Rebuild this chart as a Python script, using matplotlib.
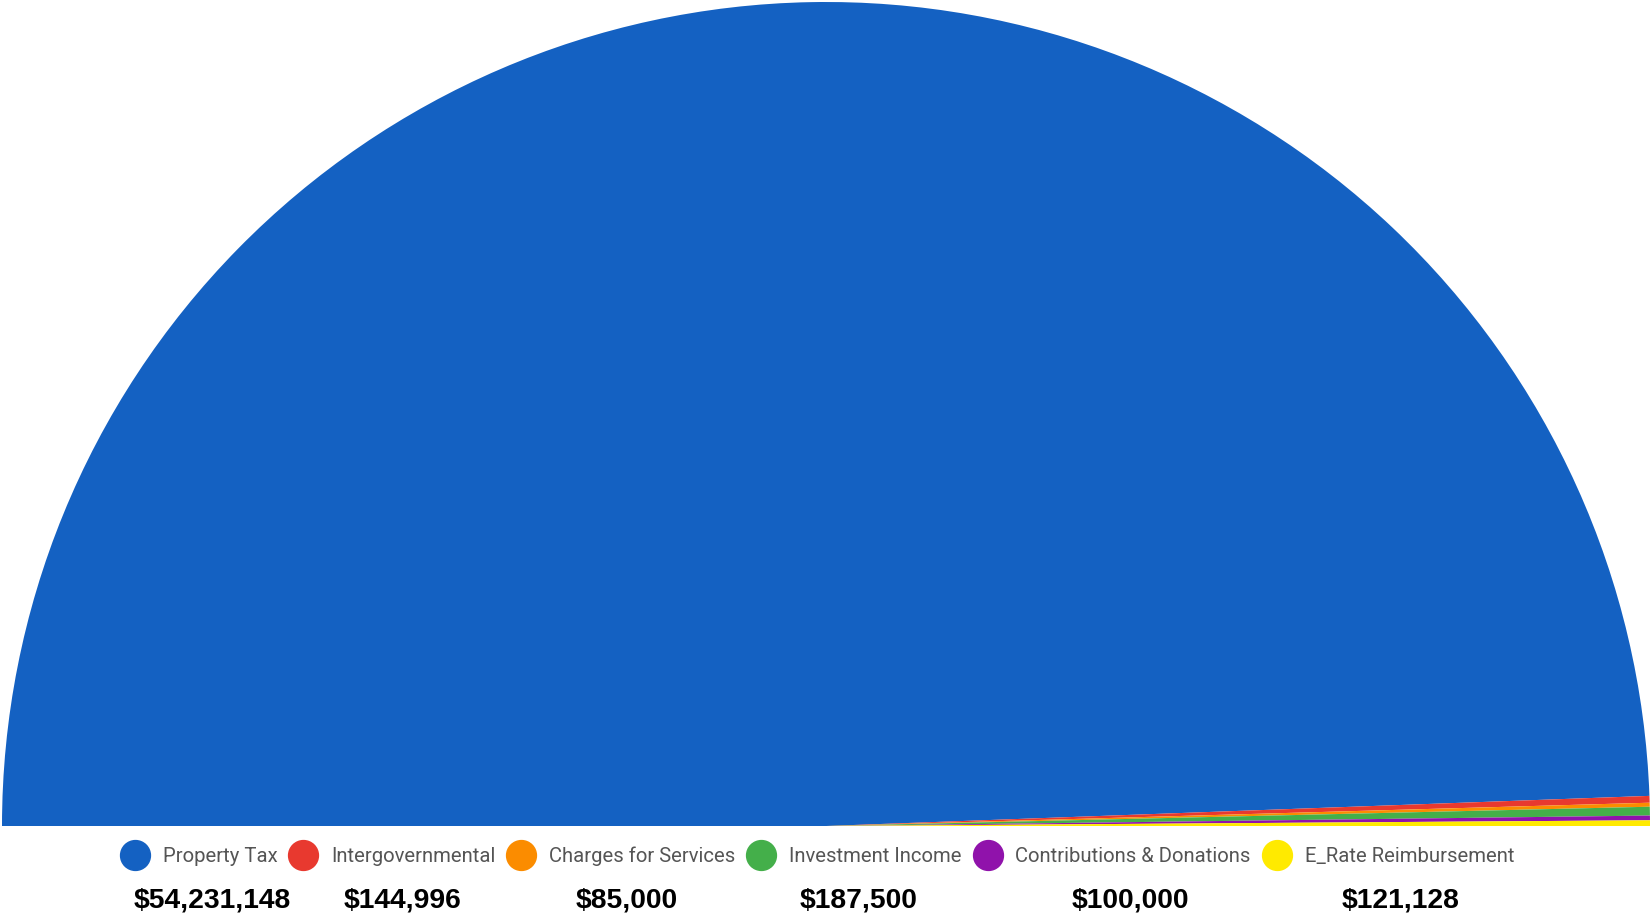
import matplotlib.pyplot as plt
from matplotlib.lines import Line2D

categories = ['Property Tax', 'Intergovernmental', 'Charges for Services',
              'Investment Income', 'Contributions & Donations', 'E_Rate Reimbursement']
values = [54231148, 144996, 85000, 187500, 100000, 121128]
value_labels = ['$54,231,148', '$144,996', '$85,000', '$187,500', '$100,000', '$121,128']
colors = ['#1461C2', '#E8392F', '#FB8C00', '#44AF4A', '#9012AB', '#FFEA00']

W, H = 1652, 918
fig = plt.figure(figsize=(W / 100, H / 100), dpi=100)
ax = fig.add_axes([0, 0, 1, 1])

# half donut: add an invisible wedge equal to the total for the lower half
wedges, _ = ax.pie(values + [sum(values)], colors=colors + ['none'],
                   startangle=180, counterclock=False,
                   center=(826, 92), radius=824, frame=True,
                   wedgeprops=dict(linewidth=0))
ax.set_xlim(0, W)
ax.set_ylim(0, H)
ax.set_aspect('equal')
ax.axis('off')

handles = [Line2D([], [], marker='o', linestyle='none', markersize=21.5,
                  markerfacecolor=c, markeredgecolor=c) for c in colors]
leg = fig.legend(handles, categories, loc='center', ncol=6,
                 bbox_to_anchor=(0.4946, 0.0672), frameon=False,
                 prop={'family': 'Roboto', 'size': 14.6},
                 handlelength=1.45, handletextpad=0.65, columnspacing=0.55,
                 borderpad=0, borderaxespad=0)
for t in leg.get_texts():
    t.set_color('#555555')

label_x = [212, 402, 627, 859, 1130, 1401]
for x, lab in zip(label_x, value_labels):
    fig.text(x / W, 1 - 901 / H, lab, ha='center', va='center',
             fontsize=20.3, fontweight='bold', family='Liberation Sans', color='black')

fig.savefig('out.png', dpi=100)
